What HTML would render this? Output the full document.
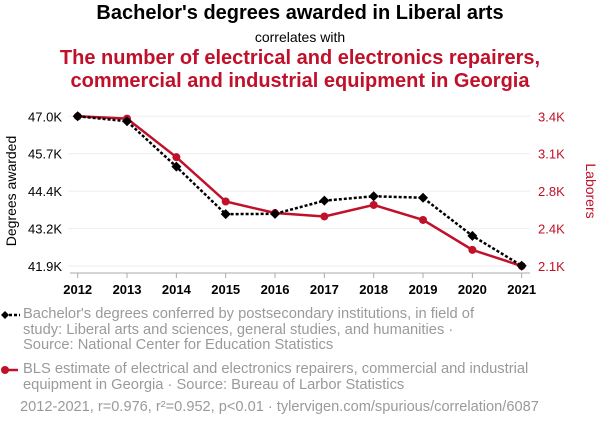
<!DOCTYPE html>
<html><head><meta charset="utf-8"><style>
body{margin:0;width:600px;height:430px;background:#fff;font-family:"Liberation Sans",sans-serif;overflow:hidden;position:relative}
.t{position:absolute;left:0;width:600px;text-align:center}
.leg{position:absolute;left:23px;color:#9a9a9a;font-size:14.7px;line-height:15.6px;white-space:nowrap}
</style></head><body>
<div class="t" style="top:2px;font-size:20px;font-weight:bold;color:#000">Bachelor's degrees awarded in Liberal arts</div>
<div class="t" style="top:29px;font-size:14px;color:#000">correlates with</div>
<div class="t" style="top:47px;font-size:20px;font-weight:bold;color:#c0102a;line-height:23px">The number of electrical and electronics repairers,<br>commercial and industrial equipment in Georgia</div>
<svg id="c" width="600" height="430" style="position:absolute;left:0;top:0"></svg>
<div class="leg" style="top:307px">Bachelor's degrees conferred by postsecondary institutions, in field of<br>study: Liberal arts and sciences, general studies, and humanities ·<br>Source: National Center for Education Statistics</div>
<div class="leg" style="top:362px">BLS estimate of electrical and electronics repairers, commercial and industrial<br>equipment in Georgia · Source: Bureau of Larbor Statistics</div>
<div class="leg" style="top:400px;left:20px;font-size:14.6px">2012-2021, r=0.976, r²=0.952, p&lt;0.01 · tylervigen.com/spurious/correlation/6087</div>
<script>
const years=[2012,2013,2014,2015,2016,2017,2018,2019,2020,2021];
const degrees=[47.0,46.83,45.28,43.66,43.67,44.12,44.27,44.22,42.92,41.9];
const laborers=[3.4,3.38,3.045,2.66,2.56,2.53,2.63,2.5,2.24,2.1];
const leftTicks=["47.0K","45.7K","44.4K","43.2K","41.9K"];
const rightTicks=["3.4K","3.1K","2.8K","2.4K","2.1K"];
const NS="http://www.w3.org/2000/svg";
const svg=document.getElementById('c');
const x=i=>77.7+i*(521.7-77.7)/(years.length-1);
const yL=v=>116.3+(47.0-v)/5.1*149.4;
const yR=v=>116.3+(3.4-v)/1.3*149.7;
function mk(t,a){const e=document.createElementNS(NS,t);for(const k in a)e.setAttribute(k,a[k]);svg.appendChild(e);return e;}
leftTicks.forEach((t,i)=>{const y=116.3+i*149.7/4;
const g=mk('line',{x1:68,x2:530,y1:y,y2:y,stroke:'#eee'});


const a=mk('text',{x:62,y:y+5,'text-anchor':'end','font-size':13,fill:'#000'});a.textContent=t;


const b=mk('text',{x:538,y:y+5,'font-size':13,fill:'#c0102a'});b.textContent=rightTicks[i];

});
const ax=mk('line',{x1:70,x2:530,y1:273,y2:273,stroke:'#aaa'});


years.forEach((yr,i)=>{mk('line',{x1:x(i),x2:x(i),y1:273,y2:278,stroke:'#aaa'});
const t=mk('text',{x:x(i),y:294,'text-anchor':'middle','font-size':13,'font-weight':'bold',fill:'#000'});t.textContent=yr;

});
const yl=mk('text',{transform:'translate(16,191) rotate(-90)','text-anchor':'middle','font-size':14,fill:'#000'});yl.textContent='Degrees awarded';


const yr=mk('text',{transform:'translate(586,191) rotate(90)','text-anchor':'middle','font-size':14,fill:'#c0102a'});yr.textContent='Laborers';


const rl=mk('polyline',{points:laborers.map((v,i)=>x(i)+','+yR(v)).join(' '),fill:'none',stroke:'#c0102a','stroke-width':2.5});


laborers.forEach((v,i)=>{const c=mk('circle',{cx:x(i),cy:yR(v),r:4,fill:'#c0102a'});

});
const bl=mk('polyline',{points:degrees.map((v,i)=>x(i)+','+yL(v)).join(' '),fill:'none',stroke:'#000','stroke-width':2.5,'stroke-dasharray':'3,2'});


degrees.forEach((v,i)=>{const X=x(i),Y=yL(v);const d=mk('polygon',{points:`${X},${Y-5} ${X+5},${Y} ${X},${Y+5} ${X-5},${Y}`,fill:'#000'});

});
const m1=mk('line',{x1:4,x2:20,y1:315,y2:315,stroke:'#000','stroke-width':2.5,'stroke-dasharray':'3,2'});


mk('polygon',{points:'5,311 9,315 5,319 1,315',fill:'#000'});
const m2=mk('line',{x1:4,x2:18,y1:370,y2:370,stroke:'#c0102a','stroke-width':2.5});


mk('circle',{cx:5,cy:370,r:4,fill:'#c0102a'});
</script>
</body></html>
